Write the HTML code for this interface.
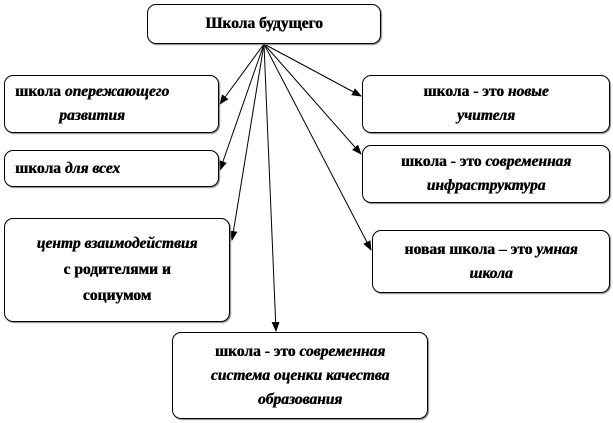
<!DOCTYPE html>
<html><head><meta charset="utf-8"><style>
body{margin:0;width:613px;height:423px;background:#fff;position:relative;overflow:hidden;font-family:"Liberation Serif","DejaVu Serif",serif;}
.b{position:absolute;border:1px solid #000;border-radius:9px;box-sizing:border-box;box-shadow:1px 1px 1px #888;display:flex;align-items:center;justify-content:center;text-align:center;font-weight:bold;font-size:15.5px;line-height:24px;text-shadow:0.5px 0 0 #000;color:#000}
i{font-style:italic}
svg{position:absolute;left:0;top:0}
</style></head><body>
<svg width="613" height="423">
<defs><marker id="a" markerWidth="10" markerHeight="10" refX="9" refY="4" orient="auto" markerUnits="userSpaceOnUse"><path d="M0,0 L10,4 L0,8 z" fill="#000"/></marker></defs>
<g stroke="#000" stroke-width="1" marker-end="url(#a)">
<line x1="264" y1="44" x2="220" y2="104"/>
<line x1="264" y1="44" x2="220" y2="170"/>
<line x1="264" y1="44" x2="232" y2="240"/>
<line x1="264" y1="44" x2="276" y2="331"/>
<line x1="264" y1="44" x2="361" y2="96"/>
<line x1="264" y1="44" x2="361" y2="154"/>
<line x1="264" y1="44" x2="371" y2="250"/>
</g></svg>
<div class="b" style="left:147px;top:4px;width:234px;height:40px"><span>Школа будущего</span></div>
<div class="b" style="left:4px;top:75px;width:215px;height:58px;justify-content:flex-start;padding-left:10px"><span>школа <i>опережающего<br>развития</i></span></div>
<div class="b" style="left:4px;top:150px;width:215px;height:37px;justify-content:flex-start;padding-left:10px"><span>школа <i>для всех</i></span></div>
<div class="b" style="left:4px;top:218px;width:226px;height:104px;line-height:26px"><span><i>центр взаимодействия</i><br>с родителями и<br>социумом</span></div>
<div class="b" style="left:172px;top:332px;width:256px;height:87px"><span>школа - это <i>современная<br>система оценки качества<br>образования</i></span></div>
<div class="b" style="left:362px;top:75px;width:248px;height:58px"><span>школа - это <i>новые<br>учителя</i></span></div>
<div class="b" style="left:362px;top:145px;width:248px;height:58px"><span>школа - это <i>современная<br>инфраструктура</i></span></div>
<div class="b" style="left:372px;top:230px;width:238px;height:63px"><span>новая школа – это <i>умная<br>школа</i></span></div>
</body></html>
